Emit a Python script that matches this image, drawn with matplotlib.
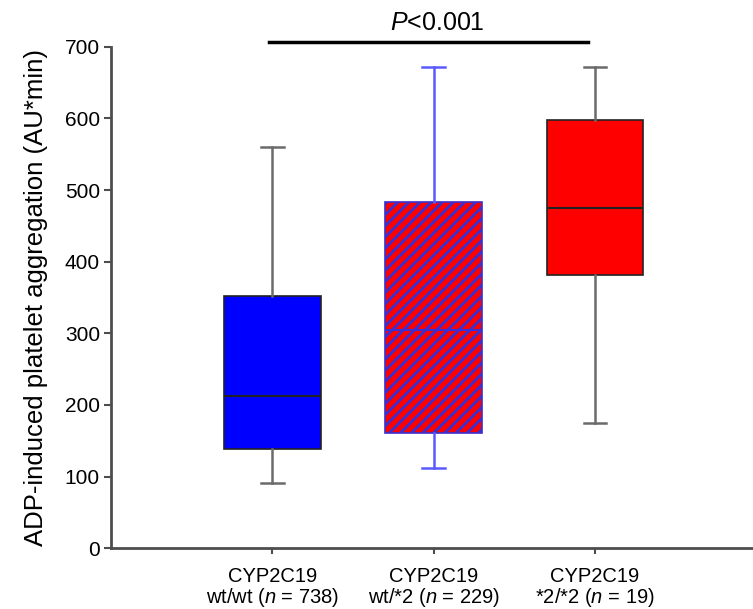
import matplotlib
matplotlib.use("Agg")
import matplotlib.pyplot as plt

plt.rcParams["font.family"] = ["Liberation Sans", "DejaVu Sans"]
plt.rcParams["mathtext.fontset"] = "custom"
plt.rcParams["mathtext.it"] = "Liberation Sans:italic"
plt.rcParams["mathtext.rm"] = "Liberation Sans"
plt.rcParams["hatch.linewidth"] = 2.0

# box statistics (AU*min)
groups = ["wt/wt", "wt/*2", "*2/*2"]
n_patients = [738, 229, 19]
whisker_low = [91, 112, 175]
q1 = [139, 161, 381]
medians = [212, 304, 475]
q3 = [352, 483, 598]
whisker_high = [560, 671, 671]

face_colors = ["#0000ff", "#ff0000", "#ff0000"]
edge_colors = ["#222222", "#3a2fd0", "#222222"]
whisker_colors = ["#6b6b6b", "#5a5aff", "#6b6b6b"]
hatches = [None, "///", None]

stats = []
for i, g in enumerate(groups):
    stats.append(dict(med=medians[i], q1=q1[i], q3=q3[i],
                      whislo=whisker_low[i], whishi=whisker_high[i],
                      fliers=[], label=g))

fig = plt.figure(figsize=(7.53, 6.09), dpi=100)
ax = fig.add_axes([0.1474, 0.0997, 0.8526, 0.8236])

positions = [1, 2, 3]
bp = ax.bxp(stats, positions=positions, widths=0.6, patch_artist=True,
            showfliers=False, capwidths=0.14)

for i in range(len(groups)):
    box = bp["boxes"][i]
    box.set_facecolor(face_colors[i])
    box.set_edgecolor(edge_colors[i])
    box.set_linewidth(1.2)
    if hatches[i]:
        box.set_hatch(hatches[i])
    bp["medians"][i].set_color(edge_colors[i])
    bp["medians"][i].set_linewidth(1.5)
    for w in bp["whiskers"][2 * i:2 * i + 2]:
        w.set_color(whisker_colors[i])
        w.set_linewidth(1.8)
    for c in bp["caps"][2 * i:2 * i + 2]:
        c.set_color(whisker_colors[i])
        c.set_linewidth(1.8)

labels = [f"CYP2C19\n{g} ($\\it{{n}}$ = {n})" for g, n in zip(groups, n_patients)]
ax.set_xticks(positions)
ax.set_xticklabels(labels, fontsize=14.5, linespacing=1.0)
ax.set_xlim(0, 3.98)
ax.set_ylim(0, 700)
ax.set_yticks(range(0, 701, 100))
ax.tick_params(axis="y", labelsize=15, length=5, width=1.5, color="#4d4d4d", pad=3)
ax.tick_params(axis="x", length=4, width=1.5, color="#4d4d4d", pad=9.5)
ax.set_ylabel("ADP-induced platelet aggregation (AU*min)", fontsize=18.5, labelpad=12)

for side in ["top", "right"]:
    ax.spines[side].set_visible(False)
for side in ["left", "bottom"]:
    ax.spines[side].set_color("#4d4d4d")
    ax.spines[side].set_linewidth(2)

# significance bar
ax.plot([0.98, 2.96], [706, 706], color="black", lw=2.5, clip_on=False)
ax.text(2.02, 716, r"$\it{P}$<0.001", ha="center", va="bottom", fontsize=18)

fig.savefig("out.png", dpi=100)
